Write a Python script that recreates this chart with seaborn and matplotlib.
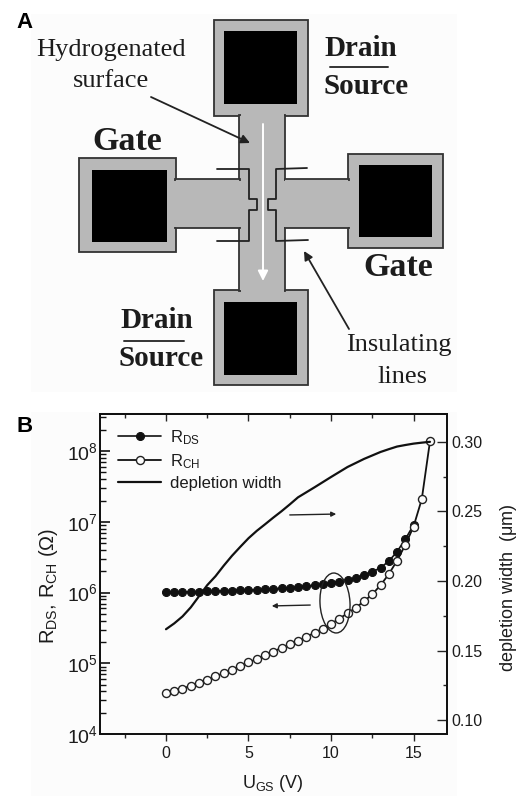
import numpy as np
import pandas as pd
import seaborn as sns
import matplotlib.pyplot as plt
from matplotlib.patches import Rectangle, Ellipse
from matplotlib.ticker import FixedLocator, FixedFormatter, NullFormatter

# panel B values
ugs_ch = np.arange(0, 16.5, 0.5)
r_ch = [3.85e4, 4.10e4, 4.38e4, 4.82e4, 5.32e4, 5.81e4, 6.61e4, 7.21e4, 8.13e4, 9.25e4,
        1.04e5, 1.14e5, 1.31e5, 1.46e5, 1.66e5, 1.87e5, 2.09e5, 2.36e5, 2.71e5, 3.08e5,
        3.60e5, 4.28e5, 5.09e5, 6.12e5, 7.53e5, 9.46e5, 1.27e6, 1.82e6, 2.82e6, 4.71e6,
        8.55e6, 2.09e7, 1.39e8]
ugs_ds = np.arange(0, 15.5, 0.5)
r_ds = [1.02e6, 1.02e6, 1.02e6, 1.03e6, 1.03e6, 1.04e6, 1.05e6, 1.06e6, 1.07e6, 1.08e6,
        1.09e6, 1.10e6, 1.11e6, 1.13e6, 1.15e6, 1.17e6, 1.20e6, 1.23e6, 1.27e6, 1.31e6,
        1.38e6, 1.43e6, 1.49e6, 1.61e6, 1.77e6, 1.96e6, 2.25e6, 2.77e6, 3.79e6, 5.67e6,
        9.04e6]
ugs_dep = np.arange(0, 16.5, 0.5)
depletion = [0.1653, 0.1695, 0.1745, 0.181, 0.189, 0.197, 0.2034, 0.211, 0.2181, 0.2245,
             0.2307, 0.236, 0.2407, 0.2455, 0.2501, 0.255, 0.2601, 0.2637, 0.2673, 0.271,
             0.2747, 0.2783, 0.2819, 0.2848, 0.2877, 0.2902, 0.2927, 0.2947, 0.2966, 0.2977,
             0.2987, 0.2994, 0.30]

# panel A layout in picture pixels
pads = [(214, 20, 94, 96), (214, 290, 94, 95), (79, 158, 97, 94), (348, 154, 95, 94)]
holes = [(224, 31, 73, 73), (224, 302, 73, 73), (92, 170, 75, 72), (359, 165, 73, 72)]
arms = [(239, 115, 46, 176), (175, 179, 65, 49), (284, 179, 65, 49)]
insulating = [
    ([217, 249, 249, 257, 257, 249, 249, 217], [169, 169, 199, 199, 210, 210, 241, 241]),
    ([307, 276, 276, 268, 268, 276, 276, 308], [168, 169, 199, 199, 210, 210, 241, 240]),
]
GREY = '#b8b8b8'
INK = '#1c1c1c'

sns.set_theme(style='ticks')
plt.rcParams['font.family'] = ['Liberation Sans', 'DejaVu Sans']
plt.rcParams['mathtext.fontset'] = 'custom'
plt.rcParams['mathtext.rm'] = 'Liberation Sans'
plt.rcParams['mathtext.default'] = 'regular'

W, H = 519, 796
fig = plt.figure(figsize=(W / 100, H / 100), dpi=100)

# whole-figure layer for the schematic
bg = fig.add_axes([0, 0, 1, 1])
bg.set_xlim(0, W)
bg.set_ylim(H, 0)
bg.axis('off')
bg.add_patch(Rectangle((31, 14), 426, 378, fc='#fcfcfc', ec='none'))
bg.add_patch(Rectangle((31, 412), 426, 384, fc='#fcfcfc', ec='none'))
for x, y, w, h in pads:
    bg.add_patch(Rectangle((x, y), w, h, fc=GREY, ec='#333333', lw=1.3))
for x, y, w, h in arms:
    bg.add_patch(Rectangle((x, y), w, h, fc=GREY, ec='#333333', lw=1.3))
# cover the inner edges so pads and arms read as one shape
bg.add_patch(Rectangle((240.5, 112), 43, 181, fc=GREY, ec='none'))
bg.add_patch(Rectangle((174, 180.5), 70, 46, fc=GREY, ec='none'))
bg.add_patch(Rectangle((280, 180.5), 71, 46, fc=GREY, ec='none'))
for x, y, w, h in holes:
    bg.add_patch(Rectangle((x, y), w, h, fc='black', ec='none'))
for xs, ys in insulating:
    bg.plot(xs, ys, color='#222222', lw=1.3)

bg.annotate('', xy=(263, 281), xytext=(263, 124),
            arrowprops=dict(arrowstyle='-|>', color='white', lw=1.4, mutation_scale=15, shrinkA=0, shrinkB=0))
bg.annotate('', xy=(250, 143), xytext=(151, 97),
            arrowprops=dict(arrowstyle='-|>', color='#222222', lw=1.3, mutation_scale=13, shrinkA=0, shrinkB=0))
bg.annotate('', xy=(304, 251), xytext=(349, 329),
            arrowprops=dict(arrowstyle='-|>', color='#222222', lw=1.3, mutation_scale=13, shrinkA=0, shrinkB=0))

serif = 'Liberation Serif'
bg.text(16, 22, 'A', fontsize=16, fontweight='bold', color='black', ha='left', va='center')
bg.text(16, 426, 'B', fontsize=16, fontweight='bold', color='black', ha='left', va='center')
bg.text(111, 50, 'Hydrogenated', family=serif, fontsize=19, color=INK, ha='center', va='center')
bg.text(111, 81, 'surface', family=serif, fontsize=19, color=INK, ha='center', va='center')
bg.text(127, 142, 'Gate', family=serif, fontsize=24.5, fontweight='bold', color=INK, ha='center', va='center')
bg.text(398, 267, 'Gate', family=serif, fontsize=24.5, fontweight='bold', color=INK, ha='center', va='center')
bg.text(361, 49, 'Drain', family=serif, fontsize=21, fontweight='bold', color=INK, ha='center', va='center')
bg.text(366, 86, 'Source', family=serif, fontsize=21, fontweight='bold', color=INK, ha='center', va='center')
bg.plot([330, 388], [67, 67], color='#333333', lw=1.4)
bg.text(157, 321, 'Drain', family=serif, fontsize=21, fontweight='bold', color=INK, ha='center', va='center')
bg.text(161, 358, 'Source', family=serif, fontsize=21, fontweight='bold', color=INK, ha='center', va='center')
bg.plot([124, 184], [341, 341], color='#333333', lw=1.4)
bg.text(399, 345, 'Insulating', family=serif, fontsize=19, color=INK, ha='center', va='center')
bg.text(402, 377, 'lines', family=serif, fontsize=19, color=INK, ha='center', va='center')

# panel B
left, right, top, bottom = 99.5, 447, 414, 734
ax = fig.add_axes([left / W, 1 - bottom / H, (right - left) / W, (bottom - top) / H])
ax.patch.set_alpha(0)
df_ch = pd.DataFrame({'ugs': ugs_ch, 'r': r_ch})
df_ds = pd.DataFrame({'ugs': ugs_ds, 'r': r_ds})
df_dep = pd.DataFrame({'ugs': ugs_dep, 'w': depletion})

sns.lineplot(data=df_ds, x='ugs', y='r', ax=ax, color='#111111', lw=1.2, marker='o', ms=5.8,
             mfc='#111111', mec='#111111', mew=0.7, label='R$_{DS}$', zorder=3)
sns.lineplot(data=df_ch, x='ugs', y='r', ax=ax, color='#111111', lw=1.3, marker='o', ms=5.8,
             mfc='#fcfcfc', mec='#222222', mew=1.0, label='R$_{CH}$', zorder=4)
ax.set_yscale('log')
ax.set_xlim(-4.03, 17.03)
ax.set_ylim(1e4, 10 ** 8.526)
ax.set_xlabel('U$_{GS}$ (V)', fontsize=13, color=INK, labelpad=8)
ax.set_ylabel('R$_{DS}$, R$_{CH}$ ($\\Omega$)', fontsize=14.5, color=INK)
ax.yaxis.set_label_coords(-0.114, 0.464)
ax.xaxis.set_major_locator(FixedLocator([0, 5, 10, 15]))
ax.xaxis.set_minor_locator(FixedLocator([-2.5, 2.5, 7.5, 12.5]))
ax.yaxis.set_major_locator(FixedLocator([1e4, 1e5, 1e6, 1e7, 1e8]))
ax.yaxis.set_major_formatter(FixedFormatter(['10$^{4}$', '10$^{5}$', '10$^{6}$', '10$^{7}$', '10$^{8}$']))
ax.yaxis.set_minor_locator(FixedLocator([m * 10.0 ** e for e in range(4, 9) for m in range(2, 10)]))
ax.yaxis.set_minor_formatter(NullFormatter())
ax.tick_params(axis='x', which='major', direction='out', length=5, width=1, labelsize=11.5,
               labelcolor=INK, pad=4)
ax.tick_params(axis='x', which='minor', direction='out', length=3, width=1)
ax.tick_params(axis='y', which='major', direction='in', left=True, length=7, width=1.2, color='#111111',
               labelsize=14, labelcolor=INK, pad=1)
ax.tick_params(axis='y', which='minor', direction='in', left=True, length=4, width=1, color='#111111')

# top edge ticks point inward, so they get their own secondary axis
top_ax = ax.secondary_xaxis('top')
top_ax.xaxis.set_major_locator(FixedLocator([0, 5, 10, 15]))
top_ax.xaxis.set_minor_locator(FixedLocator([-2.5, 2.5, 7.5, 12.5]))
top_ax.tick_params(axis='x', which='major', direction='in', length=5, width=1, labeltop=False)
top_ax.tick_params(axis='x', which='minor', direction='in', length=3, width=1, labeltop=False)

ax2 = ax.twinx()
ax2.patch.set_alpha(0)
sns.lineplot(data=df_dep, x='ugs', y='w', ax=ax2, color='#111111', lw=1.6, label='depletion width', zorder=2)
ax2.set_ylim(0.09, 0.32)
ax2.set_ylabel('depletion width  ($\\mu$m)', fontsize=13, color=INK)
ax2.yaxis.set_label_coords(1.147, 0.458)
ax2.yaxis.set_major_locator(FixedLocator([0.10, 0.15, 0.20, 0.25, 0.30]))
ax2.yaxis.set_major_formatter(FixedFormatter(['0.10', '0.15', '0.20', '0.25', '0.30']))
ax2.yaxis.set_minor_locator(FixedLocator([0.125, 0.175, 0.225, 0.275]))
ax2.tick_params(axis='y', which='major', direction='in', length=7, width=1, labelsize=11.5,
                labelcolor=INK, pad=3)
ax2.tick_params(axis='y', which='minor', direction='in', length=3, width=1)

for a in (ax, ax2):
    for s in a.spines.values():
        s.set_visible(True)
        s.set_linewidth(1.3)
        s.set_color('#111111')
top_ax.spines['top'].set_linewidth(1.3)

h1, l1 = ax.get_legend_handles_labels()
h2, l2 = ax2.get_legend_handles_labels()
ax2.get_legend().remove()
ax.get_legend().remove()
leg = ax2.legend(h1 + h2, l1 + l2, loc='upper left', bbox_to_anchor=(0.012, 1.0), frameon=False,
                 fontsize=12, handlelength=2.6, handletextpad=0.5, labelspacing=0.32, borderaxespad=0.6,
                 borderpad=0.25)
for t in leg.get_texts():
    t.set_color(INK)

# panel B arrows and ring go on top, in picture pixels
top_layer = fig.add_axes([0, 0, 1, 1])
top_layer.set_xlim(0, W)
top_layer.set_ylim(H, 0)
top_layer.axis('off')
top_layer.annotate('', xy=(339, 514), xytext=(287, 515),
                   arrowprops=dict(arrowstyle='-|>', color='#222222', lw=1.0, mutation_scale=7))
top_layer.annotate('', xy=(269, 606), xytext=(313, 605),
                   arrowprops=dict(arrowstyle='-|>', color='#222222', lw=1.0, mutation_scale=7))
top_layer.add_patch(Ellipse((335, 603), 30, 60, angle=-3, fc='none', ec='#222222', lw=1.0))

fig.savefig('out.png', dpi=100, facecolor='white')
